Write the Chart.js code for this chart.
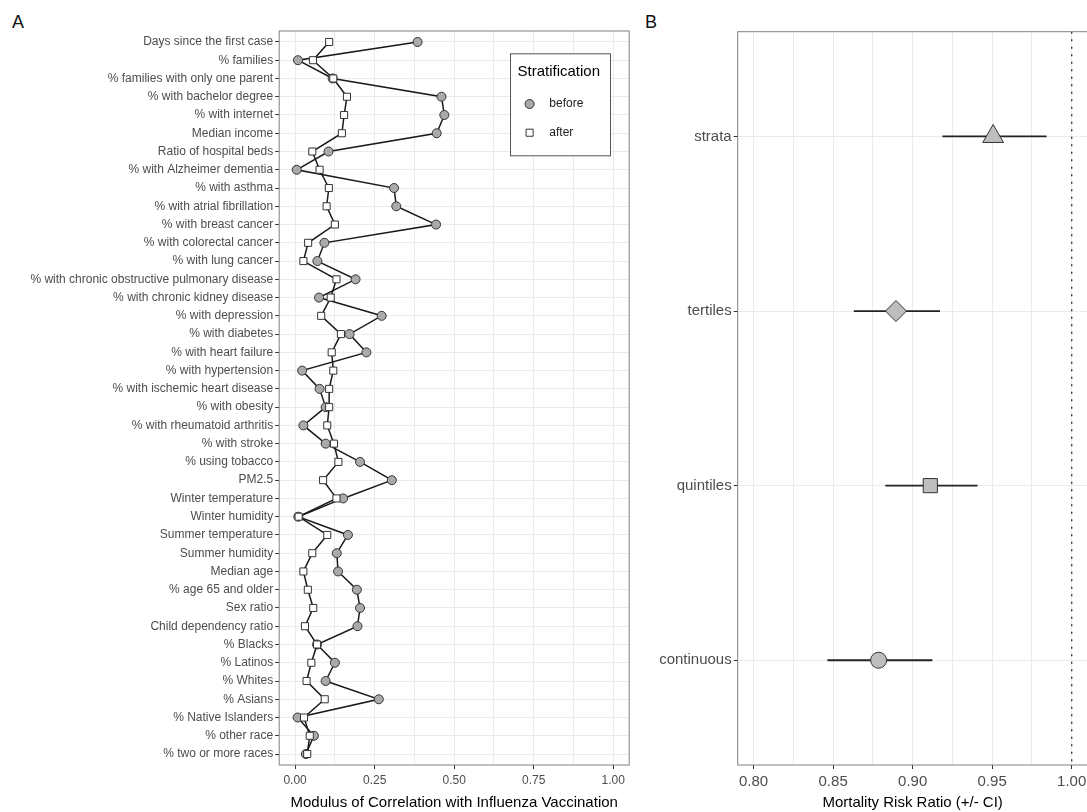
<!DOCTYPE html>
<html>
<head>
<meta charset="utf-8">
<script src="https://cdn.jsdelivr.net/npm/chart.js@4.4.1/dist/chart.umd.min.js"></script>
<style>
  html, body { margin: 0; padding: 0; background: #fff; overflow: hidden; }
  body { width: 1087px; height: 812px; position: relative; font-family: 'Liberation Sans', Arial, sans-serif; }
  canvas { position: absolute; top: 0; }
  #chartA { left: 0; }
  #chartB { left: 640px; }
  .tag { position: absolute; top: 13px; font-size: 18px; line-height: 1; color: #111; }
</style>
</head>
<body>
<div class="tag" style="left:12px">A</div>
<div class="tag" style="left:645px">B</div>
<canvas id="chartA" width="640" height="812"></canvas>
<canvas id="chartB" width="452" height="812"></canvas>
<script>
// panel A: modulus of correlation, before / after stratification
const predictors = [
  'Days since the first case', '% families', '% families with only one parent',
  '% with bachelor degree', '% with internet', 'Median income', 'Ratio of hospital beds',
  '% with Alzheimer dementia', '% with asthma', '% with atrial fibrillation',
  '% with breast cancer', '% with colorectal cancer', '% with lung cancer',
  '% with chronic obstructive pulmonary disease', '% with chronic kidney disease',
  '% with depression', '% with diabetes', '% with heart failure', '% with hypertension',
  '% with ischemic heart disease', '% with obesity', '% with rheumatoid arthritis',
  '% with stroke', '% using tobacco', 'PM2.5', 'Winter temperature', 'Winter humidity',
  'Summer temperature', 'Summer humidity', 'Median age', '% age 65 and older', 'Sex ratio',
  'Child dependency ratio', '% Blacks', '% Latinos', '% Whites', '% Asians',
  '% Native Islanders', '% other race', '% two or more races'
];
const before = [
  0.385, 0.009, 0.118, 0.460, 0.469, 0.445, 0.105, 0.005, 0.311, 0.318,
  0.443, 0.092, 0.070, 0.190, 0.075, 0.272, 0.171, 0.224, 0.022, 0.077,
  0.096, 0.026, 0.096, 0.204, 0.304, 0.151, 0.010, 0.166, 0.131, 0.135,
  0.194, 0.204, 0.196, 0.069, 0.125, 0.096, 0.263, 0.008, 0.059, 0.034
];
const after = [
  0.107, 0.056, 0.120, 0.163, 0.154, 0.147, 0.054, 0.077, 0.106, 0.099,
  0.125, 0.041, 0.026, 0.130, 0.112, 0.082, 0.144, 0.115, 0.120, 0.107,
  0.107, 0.101, 0.122, 0.136, 0.088, 0.130, 0.011, 0.101, 0.054, 0.026,
  0.040, 0.057, 0.031, 0.069, 0.051, 0.036, 0.093, 0.028, 0.046, 0.038
];
const ticksA = [0, 0.25, 0.5, 0.75, 1];

// panel B: mortality risk ratio with CI
const methods = ['strata', 'tertiles', 'quintiles', 'continuous'];
const riskRatio = [0.9506, 0.8895, 0.9111, 0.8786];
const ciLow = [0.9187, 0.8630, 0.8828, 0.8464];
const ciHigh = [0.9842, 0.9172, 0.9408, 0.9124];
const ticksB = [0.8, 0.85, 0.9, 0.95, 1.0];
const nullRatio = 1;

const FONT = "'Liberation Sans', Arial, Helvetica, sans-serif";
const GRID = '#ebebeb';

// majors plus the halfway minor lines, like ggplot
function withMinor(major) {
  return major.flatMap((v, i) => i ? [(v + major[i - 1]) / 2, v] : [v]);
}

function xAxis(major, min, max, title, size) {
  return {
    type: 'linear', min: min, max: max, bounds: 'data',
    afterBuildTicks: s => { s.ticks = withMinor(major).map(v => ({ value: v })); },
    afterFit: s => { s.height = 47; s.paddingLeft = 0; s.paddingRight = 0; },
    ticks: {
      callback: v => major.includes(v) ? v.toFixed(2) : '',
      autoSkip: false, maxRotation: 0, padding: 4,
      color: '#4d4d4d', font: { family: FONT, size: size }
    },
    grid: {
      color: GRID, lineWidth: 1, tickLength: 4,
      tickColor: c => major.includes(c.tick.value) ? '#333' : 'rgba(0,0,0,0)'
    },
    border: { display: false },
    title: { display: true, text: title, color: '#000', font: { family: FONT, size: 15 }, padding: { top: 0, bottom: 0 } }
  };
}

function yAxis(labels, width, size) {
  return {
    type: 'linear', reverse: true, bounds: 'data',
    min: 0.4, max: labels.length + 0.6,
    afterBuildTicks: s => { s.ticks = labels.map((_, i) => ({ value: i + 1 })); },
    afterFit: s => { s.width = width; s.paddingTop = 0; s.paddingBottom = 0; },
    ticks: {
      callback: v => labels[v - 1], autoSkip: false, padding: 2,
      color: '#4d4d4d', font: { family: FONT, size: size }
    },
    grid: { color: GRID, lineWidth: 1, tickLength: 4, tickColor: '#333' },
    border: { display: false }
  };
}

const panelBorder = {
  id: 'panelBorder',
  afterDatasetsDraw(chart) {
    const { ctx, chartArea: a } = chart;
    ctx.save();
    ctx.strokeStyle = '#808080';
    ctx.lineWidth = 1;
    ctx.strokeRect(a.left, a.top, a.right - a.left, a.bottom - a.top);
    ctx.restore();
  }
};

// boxed legend inside the panel (ggplot style)
const boxLegend = {
  id: 'boxLegend',
  afterDraw(chart, args, o) {
    if (!o.show) return;
    const { ctx, chartArea: a } = chart;
    const x = a.right - o.right - o.width, y = a.top + o.top;
    ctx.save();
    ctx.fillStyle = '#fff';
    ctx.fillRect(x, y, o.width, o.height);
    ctx.strokeStyle = '#555';
    ctx.lineWidth = 1;
    ctx.strokeRect(x + 0.5, y + 0.5, o.width, o.height);
    ctx.fillStyle = '#000';
    ctx.textBaseline = 'middle';
    ctx.font = '15px ' + FONT;
    ctx.fillText(o.title, x + 7.5, y + 18.5);
    ctx.font = '12px ' + FONT;
    chart.data.datasets.forEach((ds, i) => {
      const cy = y + 50.7 + i * 28.7;
      ctx.fillStyle = ds.pointBackgroundColor;
      ctx.strokeStyle = ds.pointBorderColor;
      ctx.lineWidth = ds.pointBorderWidth;
      Chart.helpers.drawPoint(ctx, { pointStyle: ds.pointStyle, radius: ds.pointRadius, borderWidth: ds.pointBorderWidth }, x + 19.6, cy);
      ctx.fillStyle = '#222';
      ctx.fillText(ds.label, x + 39.3, cy);
    });
    ctx.restore();
  }
};

new Chart(document.getElementById('chartA'), {
  type: 'scatter',
  data: {
    datasets: [
      {
        label: 'before', order: 2,
        data: before.map((v, i) => ({ x: v, y: i + 1 })),
        showLine: true, borderColor: '#1a1a1a', borderWidth: 1.5,
        pointStyle: 'circle', pointRadius: 4.5, pointBackgroundColor: '#aaaaaa',
        pointBorderColor: '#333', pointBorderWidth: 1
      },
      {
        label: 'after', order: 1,
        data: after.map((v, i) => ({ x: v, y: i + 1 })),
        showLine: true, borderColor: '#1a1a1a', borderWidth: 1.5,
        pointStyle: 'rect', pointRadius: 5, pointBackgroundColor: '#ffffff',
        pointBorderColor: '#333', pointBorderWidth: 1
      }
    ]
  },
  options: {
    responsive: false, animation: false,
    layout: { autoPadding: false, padding: { top: 31, right: 10.8, left: 0, bottom: 0 } },
    scales: {
      x: xAxis(ticksA, -0.05, 1.05, 'Modulus of Correlation with Influenza Vaccination', 12),
      y: yAxis(predictors, 279.2, 12)
    },
    plugins: {
      legend: { display: false }, tooltip: { enabled: false },
      boxLegend: { show: true, title: 'Stratification', width: 100, height: 102, right: 19.2, top: 22.3 }
    }
  },
  plugins: [panelBorder, boxLegend]
});

const ciSets = methods.map((m, i) => ({
  label: m + ' CI', order: 3,
  data: [{ x: ciLow[i], y: i + 1 }, { x: ciHigh[i], y: i + 1 }],
  showLine: true, borderColor: '#222', borderWidth: 1.8, pointRadius: 0
}));

new Chart(document.getElementById('chartB'), {
  type: 'scatter',
  data: {
    datasets: [
      {
        label: 'estimate', order: 1,
        data: riskRatio.map((v, i) => ({ x: v, y: i + 1 })),
        pointStyle: ['triangle', 'rectRot', 'rect', 'circle'],
        pointRadius: [12, 10.5, 10, 8],
        pointBackgroundColor: '#bebebe', pointBorderColor: '#333', pointBorderWidth: 1
      },
      ...ciSets,
      {
        label: 'null', order: 4,
        data: [{ x: nullRatio, y: 0.4 }, { x: nullRatio, y: methods.length + 0.6 }],
        showLine: true, borderColor: '#333', borderWidth: 1.4, borderDash: [2, 5.5], pointRadius: 0
      }
    ]
  },
  options: {
    responsive: false, animation: false,
    layout: { autoPadding: false, padding: { top: 31.7, right: 4.4, left: 0, bottom: 0 } },
    scales: {
      x: xAxis(ticksB, 0.79, 1.01, 'Mortality Risk Ratio (+/- CI)', 15),
      y: yAxis(methods, 97.7, 15)
    },
    plugins: { legend: { display: false }, tooltip: { enabled: false } }
  },
  plugins: [panelBorder]
});
</script>
</body>
</html>
